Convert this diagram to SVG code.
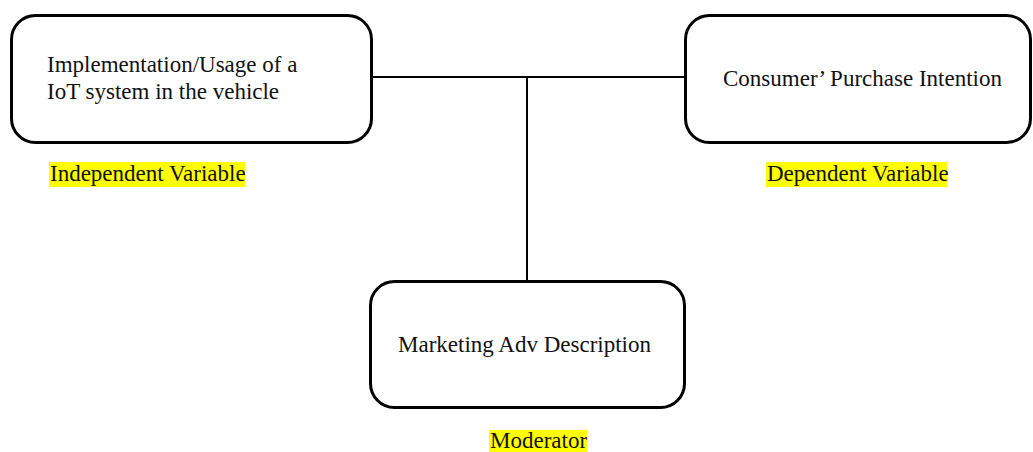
<svg xmlns="http://www.w3.org/2000/svg" width="1033" height="452" viewBox="0 0 1033 452">
  <style>
    .box { fill: #ffffff; stroke: #000000; stroke-width: 3; }
    .wire { fill: none; stroke: #000000; stroke-width: 2; }
    .txt { font-family: "Liberation Serif", "Times New Roman", serif; font-size: 23px; fill: #111111; }
    .hl { fill: #ffff00; }
  </style>
  <rect width="1033" height="452" fill="#ffffff"/>

  <g id="connectors">
    <line class="wire" x1="372" y1="77" x2="685" y2="77"/>
    <line class="wire" x1="527" y1="77" x2="527" y2="281"/>
  </g>

  <g id="independent">
    <rect class="box" x="11.5" y="15.5" width="360" height="127" rx="24"/>
    <text class="txt" x="47" y="72">Implementation/Usage of a</text>
    <text class="txt" x="47" y="99">IoT system in the vehicle</text>
    <rect class="hl" x="49" y="162" width="196" height="25"/>
    <text class="txt" x="50" y="181">Independent Variable</text>
  </g>

  <g id="dependent">
    <rect class="box" x="685.5" y="15.5" width="345" height="127" rx="24"/>
    <text class="txt" x="723" y="86">Consumer’ Purchase Intention</text>
    <rect class="hl" x="766" y="162" width="181" height="25"/>
    <text class="txt" x="767" y="181">Dependent Variable</text>
  </g>

  <g id="moderator">
    <rect class="box" x="370.5" y="281.5" width="314" height="126" rx="24"/>
    <text class="txt" x="398" y="352">Marketing Adv Description</text>
    <rect class="hl" x="489" y="430" width="98" height="22"/>
    <text class="txt" x="490" y="448">Moderator</text>
  </g>
</svg>
